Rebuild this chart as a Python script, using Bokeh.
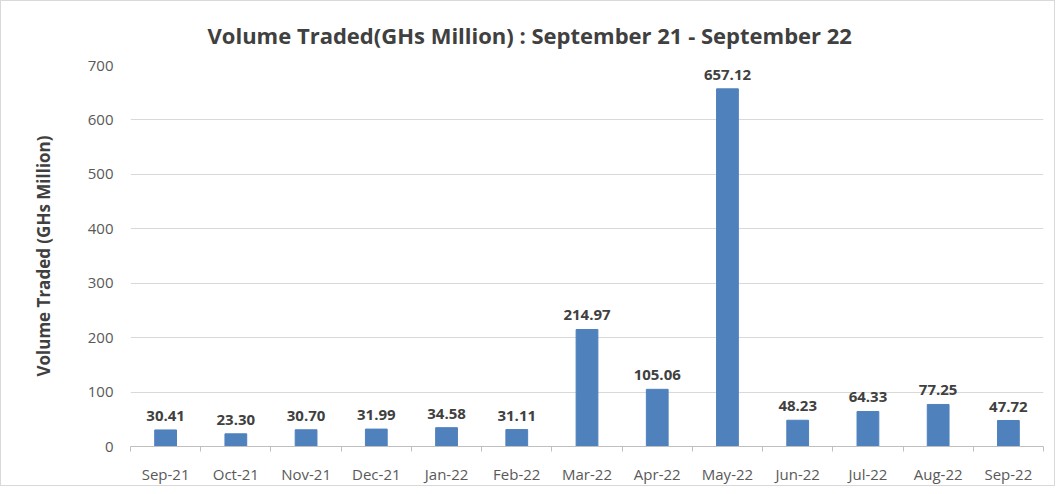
from bokeh.plotting import figure
from bokeh.models import ColumnDataSource, FixedTicker, Range1d, LabelSet
from bokeh.core.properties import value
from bokeh.embed import file_html
from bokeh.resources import INLINE

months = ["Sep-21", "Oct-21", "Nov-21", "Dec-21", "Jan-22", "Feb-22", "Mar-22",
          "Apr-22", "May-22", "Jun-22", "Jul-22", "Aug-22", "Sep-22"]
volumes = [30.41, 23.30, 30.70, 31.99, 34.58, 31.11, 214.97,
           105.06, 657.12, 48.23, 64.33, 77.25, 47.72]
y_ticks = [0, 100, 200, 300, 400, 500, 600, 700]

idx = list(range(len(months)))
src = ColumnDataSource(dict(x=idx, y=volumes, lab=[f"{v:.2f}" for v in volumes]))

FONT = "Open Sans"
p = figure(width=1055, height=486, output_backend="svg", toolbar_location=None,
           x_range=Range1d(-0.5, len(months) - 0.5), y_range=Range1d(0, 700),
           min_border_left=129, min_border_right=13, min_border_top=62, min_border_bottom=41)
p.styles = {"border": "1px solid #d9d9d9"}

p.title.text = "Volume Traded(GHs Million) : September 21 - September 22"
p.title.text_font = FONT
p.title.text_font_size = "22px"
p.title.text_font_style = "bold"
p.title.text_color = "#404040"
p.title.align = "left"
p.title.offset = 77
p.title.standoff = 32

p.vbar(x="x", top="y", width=0.31, source=src, color="#4F81BD")
labels = LabelSet(x="x", y="y", text="lab", source=src, text_align="center",
                  text_baseline="bottom", y_offset=9, text_font=value(FONT),
                  text_font_size=value("15px"), text_font_style="bold", text_color="#404040")
p.add_layout(labels)

p.outline_line_color = None
p.xgrid.grid_line_color = None
p.ygrid.grid_line_color = "#d9d9d9"
p.ygrid.grid_line_width = 1

p.yaxis.ticker = FixedTicker(ticks=y_ticks)
p.yaxis.axis_line_color = None
p.yaxis.major_tick_line_color = None
p.yaxis.major_tick_out = 0
p.yaxis.minor_tick_line_color = None
p.yaxis.major_label_text_font = FONT
p.yaxis.major_label_text_font_size = "15px"
p.yaxis.major_label_text_color = "#595959"
p.yaxis.major_label_standoff = 17
p.yaxis.axis_label = "Volume Traded (GHs Million)"
p.yaxis.axis_label_text_font = FONT
p.yaxis.axis_label_text_font_size = "17px"
p.yaxis.axis_label_text_font_style = "bold"
p.yaxis.axis_label_text_color = "#404040"
p.yaxis.axis_label_standoff = 30

p.xaxis.ticker = FixedTicker(ticks=idx, minor_ticks=[i - 0.5 for i in range(len(months) + 1)])
p.xaxis.major_label_overrides = {i: m for i, m in enumerate(months)}
p.xaxis.axis_line_color = "#bfbfbf"
p.xaxis.major_tick_line_color = None
p.xaxis.major_tick_out = 0
p.xaxis.minor_tick_line_color = "#bfbfbf"
p.xaxis.minor_tick_in = 0
p.xaxis.minor_tick_out = 5
p.xaxis.major_label_text_font = FONT
p.xaxis.major_label_text_font_size = "15px"
p.xaxis.major_label_text_color = "#595959"
p.xaxis.major_label_standoff = 12

open("out.html", "w").write(file_html(p, INLINE))
